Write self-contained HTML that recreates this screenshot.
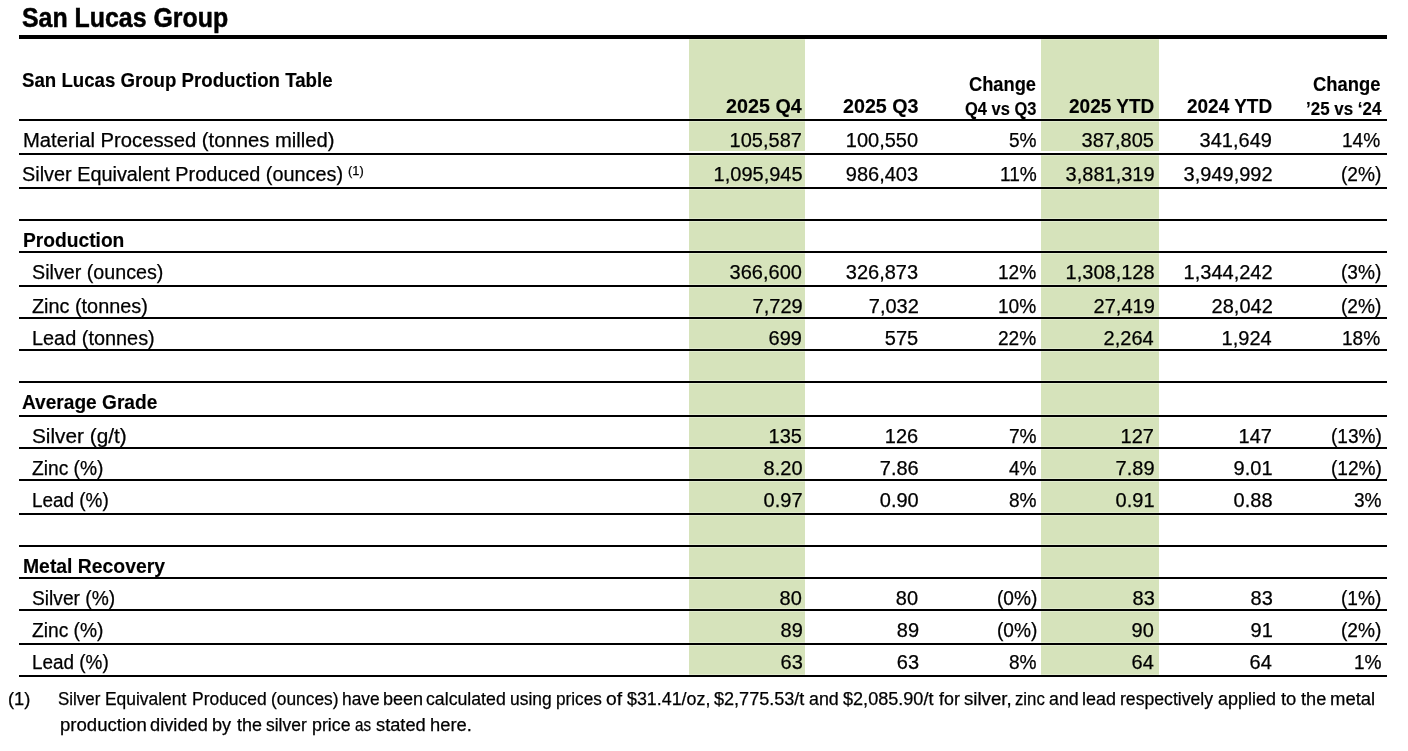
<!DOCTYPE html>
<html><head><meta charset="utf-8"><style>
html,body{margin:0;padding:0;background:#fff;width:1408px;height:751px;overflow:hidden;position:relative}
.t{position:absolute;white-space:pre;color:#000;font-family:'Liberation Sans', sans-serif}
.l{position:absolute;background:#000;left:19px;width:1368px;height:2px}
.g{position:absolute;background:#d6e3bb}
.h{position:absolute;background:#e1ebcd;height:1px}
.n{-webkit-text-stroke:0.25px #000}
.b{-webkit-text-stroke:0.15px #000}
.b2{-webkit-text-stroke:0.5px #000}
#tx{position:absolute;left:0;top:0;width:1408px;height:751px;will-change:transform}
</style></head><body>

<div class="g" style="left:689px;width:116px;top:39px;height:636px"></div>
<div class="g" style="left:1041px;width:118px;top:39px;height:636px"></div>
<div class="h" style="left:689px;width:116px;top:39px"></div>
<div class="h" style="left:689px;width:116px;top:118px"></div>
<div class="h" style="left:689px;width:116px;top:121px"></div>
<div class="h" style="left:689px;width:116px;top:152px"></div>
<div class="h" style="left:689px;width:116px;top:155px"></div>
<div class="h" style="left:689px;width:116px;top:186px"></div>
<div class="h" style="left:689px;width:116px;top:189px"></div>
<div class="h" style="left:689px;width:116px;top:218px"></div>
<div class="h" style="left:689px;width:116px;top:221px"></div>
<div class="h" style="left:689px;width:116px;top:250px"></div>
<div class="h" style="left:689px;width:116px;top:253px"></div>
<div class="h" style="left:689px;width:116px;top:284px"></div>
<div class="h" style="left:689px;width:116px;top:287px"></div>
<div class="h" style="left:689px;width:116px;top:316px"></div>
<div class="h" style="left:689px;width:116px;top:319px"></div>
<div class="h" style="left:689px;width:116px;top:348px"></div>
<div class="h" style="left:689px;width:116px;top:351px"></div>
<div class="h" style="left:689px;width:116px;top:380px"></div>
<div class="h" style="left:689px;width:116px;top:383px"></div>
<div class="h" style="left:689px;width:116px;top:414px"></div>
<div class="h" style="left:689px;width:116px;top:417px"></div>
<div class="h" style="left:689px;width:116px;top:446px"></div>
<div class="h" style="left:689px;width:116px;top:449px"></div>
<div class="h" style="left:689px;width:116px;top:478px"></div>
<div class="h" style="left:689px;width:116px;top:481px"></div>
<div class="h" style="left:689px;width:116px;top:512px"></div>
<div class="h" style="left:689px;width:116px;top:515px"></div>
<div class="h" style="left:689px;width:116px;top:544px"></div>
<div class="h" style="left:689px;width:116px;top:547px"></div>
<div class="h" style="left:689px;width:116px;top:576px"></div>
<div class="h" style="left:689px;width:116px;top:579px"></div>
<div class="h" style="left:689px;width:116px;top:608px"></div>
<div class="h" style="left:689px;width:116px;top:611px"></div>
<div class="h" style="left:689px;width:116px;top:642px"></div>
<div class="h" style="left:689px;width:116px;top:645px"></div>
<div class="h" style="left:689px;width:116px;top:674px"></div>
<div style="position:absolute;background:#fff;left:689px;width:116px;top:151px;height:2px"></div>
<div class="h" style="left:1041px;width:118px;top:39px"></div>
<div class="h" style="left:1041px;width:118px;top:118px"></div>
<div class="h" style="left:1041px;width:118px;top:121px"></div>
<div class="h" style="left:1041px;width:118px;top:152px"></div>
<div class="h" style="left:1041px;width:118px;top:155px"></div>
<div class="h" style="left:1041px;width:118px;top:186px"></div>
<div class="h" style="left:1041px;width:118px;top:189px"></div>
<div class="h" style="left:1041px;width:118px;top:218px"></div>
<div class="h" style="left:1041px;width:118px;top:221px"></div>
<div class="h" style="left:1041px;width:118px;top:250px"></div>
<div class="h" style="left:1041px;width:118px;top:253px"></div>
<div class="h" style="left:1041px;width:118px;top:284px"></div>
<div class="h" style="left:1041px;width:118px;top:287px"></div>
<div class="h" style="left:1041px;width:118px;top:316px"></div>
<div class="h" style="left:1041px;width:118px;top:319px"></div>
<div class="h" style="left:1041px;width:118px;top:348px"></div>
<div class="h" style="left:1041px;width:118px;top:351px"></div>
<div class="h" style="left:1041px;width:118px;top:380px"></div>
<div class="h" style="left:1041px;width:118px;top:383px"></div>
<div class="h" style="left:1041px;width:118px;top:414px"></div>
<div class="h" style="left:1041px;width:118px;top:417px"></div>
<div class="h" style="left:1041px;width:118px;top:446px"></div>
<div class="h" style="left:1041px;width:118px;top:449px"></div>
<div class="h" style="left:1041px;width:118px;top:478px"></div>
<div class="h" style="left:1041px;width:118px;top:481px"></div>
<div class="h" style="left:1041px;width:118px;top:512px"></div>
<div class="h" style="left:1041px;width:118px;top:515px"></div>
<div class="h" style="left:1041px;width:118px;top:544px"></div>
<div class="h" style="left:1041px;width:118px;top:547px"></div>
<div class="h" style="left:1041px;width:118px;top:576px"></div>
<div class="h" style="left:1041px;width:118px;top:579px"></div>
<div class="h" style="left:1041px;width:118px;top:608px"></div>
<div class="h" style="left:1041px;width:118px;top:611px"></div>
<div class="h" style="left:1041px;width:118px;top:642px"></div>
<div class="h" style="left:1041px;width:118px;top:645px"></div>
<div class="h" style="left:1041px;width:118px;top:674px"></div>
<div style="position:absolute;background:#fff;left:1041px;width:118px;top:151px;height:2px"></div>
<div class="l" style="top:35px;height:4px"></div>
<div class="l" style="top:119px"></div>
<div class="l" style="top:153px"></div>
<div class="l" style="top:187px"></div>
<div class="l" style="top:219px"></div>
<div class="l" style="top:251px"></div>
<div class="l" style="top:285px"></div>
<div class="l" style="top:317px"></div>
<div class="l" style="top:349px"></div>
<div class="l" style="top:381px"></div>
<div class="l" style="top:415px"></div>
<div class="l" style="top:447px"></div>
<div class="l" style="top:479px"></div>
<div class="l" style="top:513px"></div>
<div class="l" style="top:545px"></div>
<div class="l" style="top:577px"></div>
<div class="l" style="top:609px"></div>
<div class="l" style="top:643px"></div>
<div class="l" style="top:675px"></div>
<div id="tx">
<div class="t b2" style="left:22.08px;top:5px;font-weight:bold;font-size:27px;line-height:27px;transform:scaleX(0.9221);transform-origin:0 0">San Lucas Group</div>
<div class="t b" style="left:22.27px;top:70px;font-weight:bold;font-size:20px;line-height:20px;transform:scaleX(0.9325);transform-origin:0 0">San Lucas Group Production Table</div>
<div class="t b" style="left:725.71px;top:96px;font-weight:bold;font-size:20px;line-height:20px;transform:scaleX(0.9868);transform-origin:0 0">2025 Q4</div>
<div class="t b" style="left:842.82px;top:96px;font-weight:bold;font-size:20px;line-height:20px;transform:scaleX(0.9840);transform-origin:0 0">2025 Q3</div>
<div class="t b" style="left:968.79px;top:74px;font-weight:bold;font-size:20px;line-height:20px;transform:scaleX(0.9139);transform-origin:0 0">Change</div>
<div class="t b" style="left:964.89px;top:100px;font-weight:bold;font-size:18px;line-height:18px;transform:scaleX(0.9143);transform-origin:0 0">Q4 vs Q3</div>
<div class="t b" style="left:1068.75px;top:96px;font-weight:bold;font-size:20px;line-height:20px;transform:scaleX(0.9511);transform-origin:0 0">2025 YTD</div>
<div class="t b" style="left:1186.85px;top:96px;font-weight:bold;font-size:20px;line-height:20px;transform:scaleX(0.9489);transform-origin:0 0">2024 YTD</div>
<div class="t b" style="left:1313.08px;top:74px;font-weight:bold;font-size:20px;line-height:20px;transform:scaleX(0.9194);transform-origin:0 0">Change</div>
<div class="t b" style="left:1305.56px;top:100px;font-weight:bold;font-size:18px;line-height:18px;transform:scaleX(0.9418);transform-origin:0 0">’25 vs ‘24</div>
<div class="t n" style="left:22.58px;top:130px;font-weight:normal;font-size:20px;line-height:20px;transform:scaleX(1.0118);transform-origin:0 0">Material Processed (tonnes milled)</div>
<div class="t n" style="left:729.60px;top:130px;font-weight:normal;font-size:20px;line-height:20px;transform:scaleX(1.0000);transform-origin:0 0">105,587</div>
<div class="t n" style="left:845.80px;top:130px;font-weight:normal;font-size:20px;line-height:20px;transform:scaleX(1.0000);transform-origin:0 0">100,550</div>
<div class="t n" style="left:1009.26px;top:130px;font-weight:normal;font-size:20px;line-height:20px;transform:scaleX(0.9550);transform-origin:0 0">5%</div>
<div class="t n" style="left:1081.60px;top:130px;font-weight:normal;font-size:20px;line-height:20px;transform:scaleX(1.0000);transform-origin:0 0">387,805</div>
<div class="t n" style="left:1199.60px;top:130px;font-weight:normal;font-size:20px;line-height:20px;transform:scaleX(1.0000);transform-origin:0 0">341,649</div>
<div class="t n" style="left:1342.40px;top:130px;font-weight:normal;font-size:20px;line-height:20px;transform:scaleX(0.9550);transform-origin:0 0">14%</div>
<div class="t n" style="left:22.41px;top:164px;font-weight:normal;font-size:20px;line-height:20px;transform:scaleX(0.9925);transform-origin:0 0">Silver Equivalent Produced (ounces)</div>
<div class="t n" style="left:347.91px;top:164px;font-weight:normal;font-size:13px;line-height:13px;transform:scaleX(0.9857);transform-origin:0 0">(1)</div>
<div class="t n" style="left:713.60px;top:164px;font-weight:normal;font-size:20px;line-height:20px;transform:scaleX(1.0000);transform-origin:0 0">1,095,945</div>
<div class="t n" style="left:845.80px;top:164px;font-weight:normal;font-size:20px;line-height:20px;transform:scaleX(1.0000);transform-origin:0 0">986,403</div>
<div class="t n" style="left:999.71px;top:164px;font-weight:normal;font-size:20px;line-height:20px;transform:scaleX(0.9550);transform-origin:0 0">11%</div>
<div class="t n" style="left:1065.60px;top:164px;font-weight:normal;font-size:20px;line-height:20px;transform:scaleX(1.0000);transform-origin:0 0">3,881,319</div>
<div class="t n" style="left:1183.60px;top:164px;font-weight:normal;font-size:20px;line-height:20px;transform:scaleX(1.0000);transform-origin:0 0">3,949,992</div>
<div class="t n" style="left:1341.44px;top:164px;font-weight:normal;font-size:20px;line-height:20px;transform:scaleX(0.9550);transform-origin:0 0">(2%)</div>
<div class="t b" style="left:23.04px;top:230px;font-weight:bold;font-size:20px;line-height:20px;transform:scaleX(0.9602);transform-origin:0 0">Production</div>
<div class="t n" style="left:31.82px;top:262px;font-weight:normal;font-size:20px;line-height:20px;transform:scaleX(0.9847);transform-origin:0 0">Silver (ounces)</div>
<div class="t n" style="left:729.60px;top:262px;font-weight:normal;font-size:20px;line-height:20px;transform:scaleX(1.0000);transform-origin:0 0">366,600</div>
<div class="t n" style="left:845.80px;top:262px;font-weight:normal;font-size:20px;line-height:20px;transform:scaleX(1.0000);transform-origin:0 0">326,873</div>
<div class="t n" style="left:997.80px;top:262px;font-weight:normal;font-size:20px;line-height:20px;transform:scaleX(0.9550);transform-origin:0 0">12%</div>
<div class="t n" style="left:1065.60px;top:262px;font-weight:normal;font-size:20px;line-height:20px;transform:scaleX(1.0000);transform-origin:0 0">1,308,128</div>
<div class="t n" style="left:1183.60px;top:262px;font-weight:normal;font-size:20px;line-height:20px;transform:scaleX(1.0000);transform-origin:0 0">1,344,242</div>
<div class="t n" style="left:1341.44px;top:262px;font-weight:normal;font-size:20px;line-height:20px;transform:scaleX(0.9550);transform-origin:0 0">(3%)</div>
<div class="t n" style="left:32.01px;top:296px;font-weight:normal;font-size:20px;line-height:20px;transform:scaleX(0.9922);transform-origin:0 0">Zinc (tonnes)</div>
<div class="t n" style="left:752.60px;top:296px;font-weight:normal;font-size:20px;line-height:20px;transform:scaleX(1.0000);transform-origin:0 0">7,729</div>
<div class="t n" style="left:868.80px;top:296px;font-weight:normal;font-size:20px;line-height:20px;transform:scaleX(1.0000);transform-origin:0 0">7,032</div>
<div class="t n" style="left:997.80px;top:296px;font-weight:normal;font-size:20px;line-height:20px;transform:scaleX(0.9550);transform-origin:0 0">10%</div>
<div class="t n" style="left:1093.60px;top:296px;font-weight:normal;font-size:20px;line-height:20px;transform:scaleX(1.0000);transform-origin:0 0">27,419</div>
<div class="t n" style="left:1211.60px;top:296px;font-weight:normal;font-size:20px;line-height:20px;transform:scaleX(1.0000);transform-origin:0 0">28,042</div>
<div class="t n" style="left:1341.44px;top:296px;font-weight:normal;font-size:20px;line-height:20px;transform:scaleX(0.9550);transform-origin:0 0">(2%)</div>
<div class="t n" style="left:32.01px;top:328px;font-weight:normal;font-size:20px;line-height:20px;transform:scaleX(0.9942);transform-origin:0 0">Lead (tonnes)</div>
<div class="t n" style="left:768.60px;top:328px;font-weight:normal;font-size:20px;line-height:20px;transform:scaleX(1.0000);transform-origin:0 0">699</div>
<div class="t n" style="left:884.80px;top:328px;font-weight:normal;font-size:20px;line-height:20px;transform:scaleX(1.0000);transform-origin:0 0">575</div>
<div class="t n" style="left:997.80px;top:328px;font-weight:normal;font-size:20px;line-height:20px;transform:scaleX(0.9550);transform-origin:0 0">22%</div>
<div class="t n" style="left:1103.60px;top:328px;font-weight:normal;font-size:20px;line-height:20px;transform:scaleX(1.0000);transform-origin:0 0">2,264</div>
<div class="t n" style="left:1221.60px;top:328px;font-weight:normal;font-size:20px;line-height:20px;transform:scaleX(1.0000);transform-origin:0 0">1,924</div>
<div class="t n" style="left:1342.40px;top:328px;font-weight:normal;font-size:20px;line-height:20px;transform:scaleX(0.9550);transform-origin:0 0">18%</div>
<div class="t b" style="left:22.24px;top:392px;font-weight:bold;font-size:20px;line-height:20px;transform:scaleX(0.9557);transform-origin:0 0">Average Grade</div>
<div class="t n" style="left:31.76px;top:426px;font-weight:normal;font-size:20px;line-height:20px;transform:scaleX(1.0393);transform-origin:0 0">Silver (g/t)</div>
<div class="t n" style="left:768.60px;top:426px;font-weight:normal;font-size:20px;line-height:20px;transform:scaleX(1.0000);transform-origin:0 0">135</div>
<div class="t n" style="left:884.80px;top:426px;font-weight:normal;font-size:20px;line-height:20px;transform:scaleX(1.0000);transform-origin:0 0">126</div>
<div class="t n" style="left:1009.26px;top:426px;font-weight:normal;font-size:20px;line-height:20px;transform:scaleX(0.9550);transform-origin:0 0">7%</div>
<div class="t n" style="left:1120.60px;top:426px;font-weight:normal;font-size:20px;line-height:20px;transform:scaleX(1.0000);transform-origin:0 0">127</div>
<div class="t n" style="left:1238.60px;top:426px;font-weight:normal;font-size:20px;line-height:20px;transform:scaleX(1.0000);transform-origin:0 0">147</div>
<div class="t n" style="left:1330.94px;top:426px;font-weight:normal;font-size:20px;line-height:20px;transform:scaleX(0.9550);transform-origin:0 0">(13%)</div>
<div class="t n" style="left:32.04px;top:458px;font-weight:normal;font-size:20px;line-height:20px;transform:scaleX(0.9597);transform-origin:0 0">Zinc (%)</div>
<div class="t n" style="left:763.60px;top:458px;font-weight:normal;font-size:20px;line-height:20px;transform:scaleX(1.0000);transform-origin:0 0">8.20</div>
<div class="t n" style="left:879.80px;top:458px;font-weight:normal;font-size:20px;line-height:20px;transform:scaleX(1.0000);transform-origin:0 0">7.86</div>
<div class="t n" style="left:1009.26px;top:458px;font-weight:normal;font-size:20px;line-height:20px;transform:scaleX(0.9550);transform-origin:0 0">4%</div>
<div class="t n" style="left:1115.60px;top:458px;font-weight:normal;font-size:20px;line-height:20px;transform:scaleX(1.0000);transform-origin:0 0">7.89</div>
<div class="t n" style="left:1233.60px;top:458px;font-weight:normal;font-size:20px;line-height:20px;transform:scaleX(1.0000);transform-origin:0 0">9.01</div>
<div class="t n" style="left:1330.94px;top:458px;font-weight:normal;font-size:20px;line-height:20px;transform:scaleX(0.9550);transform-origin:0 0">(12%)</div>
<div class="t n" style="left:32.11px;top:490px;font-weight:normal;font-size:20px;line-height:20px;transform:scaleX(0.9449);transform-origin:0 0">Lead (%)</div>
<div class="t n" style="left:763.60px;top:490px;font-weight:normal;font-size:20px;line-height:20px;transform:scaleX(1.0000);transform-origin:0 0">0.97</div>
<div class="t n" style="left:879.80px;top:490px;font-weight:normal;font-size:20px;line-height:20px;transform:scaleX(1.0000);transform-origin:0 0">0.90</div>
<div class="t n" style="left:1009.26px;top:490px;font-weight:normal;font-size:20px;line-height:20px;transform:scaleX(0.9550);transform-origin:0 0">8%</div>
<div class="t n" style="left:1115.60px;top:490px;font-weight:normal;font-size:20px;line-height:20px;transform:scaleX(1.0000);transform-origin:0 0">0.91</div>
<div class="t n" style="left:1233.60px;top:490px;font-weight:normal;font-size:20px;line-height:20px;transform:scaleX(1.0000);transform-origin:0 0">0.88</div>
<div class="t n" style="left:1353.86px;top:490px;font-weight:normal;font-size:20px;line-height:20px;transform:scaleX(0.9550);transform-origin:0 0">3%</div>
<div class="t b" style="left:23.03px;top:556px;font-weight:bold;font-size:20px;line-height:20px;transform:scaleX(0.9678);transform-origin:0 0">Metal Recovery</div>
<div class="t n" style="left:31.84px;top:588px;font-weight:normal;font-size:20px;line-height:20px;transform:scaleX(0.9588);transform-origin:0 0">Silver (%)</div>
<div class="t n" style="left:779.60px;top:588px;font-weight:normal;font-size:20px;line-height:20px;transform:scaleX(1.0000);transform-origin:0 0">80</div>
<div class="t n" style="left:895.80px;top:588px;font-weight:normal;font-size:20px;line-height:20px;transform:scaleX(1.0000);transform-origin:0 0">80</div>
<div class="t n" style="left:996.85px;top:588px;font-weight:normal;font-size:20px;line-height:20px;transform:scaleX(0.9550);transform-origin:0 0">(0%)</div>
<div class="t n" style="left:1132.60px;top:588px;font-weight:normal;font-size:20px;line-height:20px;transform:scaleX(1.0000);transform-origin:0 0">83</div>
<div class="t n" style="left:1250.60px;top:588px;font-weight:normal;font-size:20px;line-height:20px;transform:scaleX(1.0000);transform-origin:0 0">83</div>
<div class="t n" style="left:1341.44px;top:588px;font-weight:normal;font-size:20px;line-height:20px;transform:scaleX(0.9550);transform-origin:0 0">(1%)</div>
<div class="t n" style="left:32.04px;top:620px;font-weight:normal;font-size:20px;line-height:20px;transform:scaleX(0.9597);transform-origin:0 0">Zinc (%)</div>
<div class="t n" style="left:780.60px;top:620px;font-weight:normal;font-size:20px;line-height:20px;transform:scaleX(1.0000);transform-origin:0 0">89</div>
<div class="t n" style="left:896.80px;top:620px;font-weight:normal;font-size:20px;line-height:20px;transform:scaleX(1.0000);transform-origin:0 0">89</div>
<div class="t n" style="left:996.85px;top:620px;font-weight:normal;font-size:20px;line-height:20px;transform:scaleX(0.9550);transform-origin:0 0">(0%)</div>
<div class="t n" style="left:1131.60px;top:620px;font-weight:normal;font-size:20px;line-height:20px;transform:scaleX(1.0000);transform-origin:0 0">90</div>
<div class="t n" style="left:1250.60px;top:620px;font-weight:normal;font-size:20px;line-height:20px;transform:scaleX(1.0000);transform-origin:0 0">91</div>
<div class="t n" style="left:1341.44px;top:620px;font-weight:normal;font-size:20px;line-height:20px;transform:scaleX(0.9550);transform-origin:0 0">(2%)</div>
<div class="t n" style="left:32.11px;top:652px;font-weight:normal;font-size:20px;line-height:20px;transform:scaleX(0.9449);transform-origin:0 0">Lead (%)</div>
<div class="t n" style="left:780.60px;top:652px;font-weight:normal;font-size:20px;line-height:20px;transform:scaleX(1.0000);transform-origin:0 0">63</div>
<div class="t n" style="left:896.80px;top:652px;font-weight:normal;font-size:20px;line-height:20px;transform:scaleX(1.0000);transform-origin:0 0">63</div>
<div class="t n" style="left:1009.26px;top:652px;font-weight:normal;font-size:20px;line-height:20px;transform:scaleX(0.9550);transform-origin:0 0">8%</div>
<div class="t n" style="left:1131.60px;top:652px;font-weight:normal;font-size:20px;line-height:20px;transform:scaleX(1.0000);transform-origin:0 0">64</div>
<div class="t n" style="left:1249.60px;top:652px;font-weight:normal;font-size:20px;line-height:20px;transform:scaleX(1.0000);transform-origin:0 0">64</div>
<div class="t n" style="left:1353.86px;top:652px;font-weight:normal;font-size:20px;line-height:20px;transform:scaleX(0.9550);transform-origin:0 0">1%</div>
<div class="t n" style="left:7.85px;top:691px;font-weight:normal;font-size:17.5px;line-height:17.5px;transform:scaleX(1.0474);transform-origin:0 0">(1)</div>
<div class="t n" style="left:57.83px;top:691px;font-weight:normal;font-size:17.5px;line-height:17.5px;transform:scaleX(0.9674);transform-origin:0 0">Silver</div>
<div class="t n" style="left:105.10px;top:691px;font-weight:normal;font-size:17.5px;line-height:17.5px;transform:scaleX(0.9951);transform-origin:0 0">Equivalent</div>
<div class="t n" style="left:191.70px;top:691px;font-weight:normal;font-size:17.5px;line-height:17.5px;transform:scaleX(0.9973);transform-origin:0 0">Produced</div>
<div class="t n" style="left:270.71px;top:691px;font-weight:normal;font-size:17.5px;line-height:17.5px;transform:scaleX(0.9909);transform-origin:0 0">(ounces)</div>
<div class="t n" style="left:341.81px;top:691px;font-weight:normal;font-size:17.5px;line-height:17.5px;transform:scaleX(0.9917);transform-origin:0 0">have</div>
<div class="t n" style="left:382.77px;top:691px;font-weight:normal;font-size:17.5px;line-height:17.5px;transform:scaleX(1.0297);transform-origin:0 0">been</div>
<div class="t n" style="left:426.29px;top:691px;font-weight:normal;font-size:17.5px;line-height:17.5px;transform:scaleX(1.0117);transform-origin:0 0">calculated</div>
<div class="t n" style="left:510.31px;top:691px;font-weight:normal;font-size:17.5px;line-height:17.5px;transform:scaleX(0.9950);transform-origin:0 0">using</div>
<div class="t n" style="left:555.92px;top:691px;font-weight:normal;font-size:17.5px;line-height:17.5px;transform:scaleX(0.9800);transform-origin:0 0">prices</div>
<div class="t n" style="left:605.60px;top:691px;font-weight:normal;font-size:17.5px;line-height:17.5px;transform:scaleX(1.1000);transform-origin:0 0">of</div>
<div class="t n" style="left:626.60px;top:691px;font-weight:normal;font-size:17.5px;line-height:17.5px;transform:scaleX(1.0200);transform-origin:0 0">$31.41/oz,</div>
<div class="t n" style="left:713.90px;top:691px;font-weight:normal;font-size:17.5px;line-height:17.5px;transform:scaleX(1.0318);transform-origin:0 0">$2,775.53/t</div>
<div class="t n" style="left:808.78px;top:691px;font-weight:normal;font-size:17.5px;line-height:17.5px;transform:scaleX(1.0185);transform-origin:0 0">and</div>
<div class="t n" style="left:843.20px;top:691px;font-weight:normal;font-size:17.5px;line-height:17.5px;transform:scaleX(1.0330);transform-origin:0 0">$2,085.90/t</div>
<div class="t n" style="left:939.20px;top:691px;font-weight:normal;font-size:17.5px;line-height:17.5px;transform:scaleX(1.0200);transform-origin:0 0">for</div>
<div class="t n" style="left:964.34px;top:691px;font-weight:normal;font-size:17.5px;line-height:17.5px;transform:scaleX(1.0643);transform-origin:0 0">silver,</div>
<div class="t n" style="left:1014.94px;top:691px;font-weight:normal;font-size:17.5px;line-height:17.5px;transform:scaleX(0.9567);transform-origin:0 0">zinc</div>
<div class="t n" style="left:1049.38px;top:691px;font-weight:normal;font-size:17.5px;line-height:17.5px;transform:scaleX(1.0185);transform-origin:0 0">and</div>
<div class="t n" style="left:1082.17px;top:691px;font-weight:normal;font-size:17.5px;line-height:17.5px;transform:scaleX(1.0258);transform-origin:0 0">lead</div>
<div class="t n" style="left:1119.69px;top:691px;font-weight:normal;font-size:17.5px;line-height:17.5px;transform:scaleX(1.0076);transform-origin:0 0">respectively</div>
<div class="t n" style="left:1217.77px;top:691px;font-weight:normal;font-size:17.5px;line-height:17.5px;transform:scaleX(1.0255);transform-origin:0 0">applied</div>
<div class="t n" style="left:1280.70px;top:691px;font-weight:normal;font-size:17.5px;line-height:17.5px;transform:scaleX(1.0500);transform-origin:0 0">to</div>
<div class="t n" style="left:1301.20px;top:691px;font-weight:normal;font-size:17.5px;line-height:17.5px;transform:scaleX(1.0375);transform-origin:0 0">the</div>
<div class="t n" style="left:1330.14px;top:691px;font-weight:normal;font-size:17.5px;line-height:17.5px;transform:scaleX(1.0561);transform-origin:0 0">metal</div>
<div class="t n" style="left:60.04px;top:717px;font-weight:normal;font-size:17.5px;line-height:17.5px;transform:scaleX(1.0613);transform-origin:0 0">production</div>
<div class="t n" style="left:150.46px;top:717px;font-weight:normal;font-size:17.5px;line-height:17.5px;transform:scaleX(1.0426);transform-origin:0 0">divided</div>
<div class="t n" style="left:212.47px;top:717px;font-weight:normal;font-size:17.5px;line-height:17.5px;transform:scaleX(1.0333);transform-origin:0 0">by</div>
<div class="t n" style="left:236.80px;top:717px;font-weight:normal;font-size:17.5px;line-height:17.5px;transform:scaleX(1.0250);transform-origin:0 0">the</div>
<div class="t n" style="left:265.90px;top:717px;font-weight:normal;font-size:17.5px;line-height:17.5px;transform:scaleX(0.9975);transform-origin:0 0">silver</div>
<div class="t n" style="left:311.98px;top:717px;font-weight:normal;font-size:17.5px;line-height:17.5px;transform:scaleX(1.0167);transform-origin:0 0">price</div>
<div class="t n" style="left:355.14px;top:717px;font-weight:normal;font-size:17.5px;line-height:17.5px;transform:scaleX(0.8647);transform-origin:0 0">as</div>
<div class="t n" style="left:375.76px;top:717px;font-weight:normal;font-size:17.5px;line-height:17.5px;transform:scaleX(1.0435);transform-origin:0 0">stated</div>
<div class="t n" style="left:430.15px;top:717px;font-weight:normal;font-size:17.5px;line-height:17.5px;transform:scaleX(1.0486);transform-origin:0 0">here.</div>
</div>
</body></html>
